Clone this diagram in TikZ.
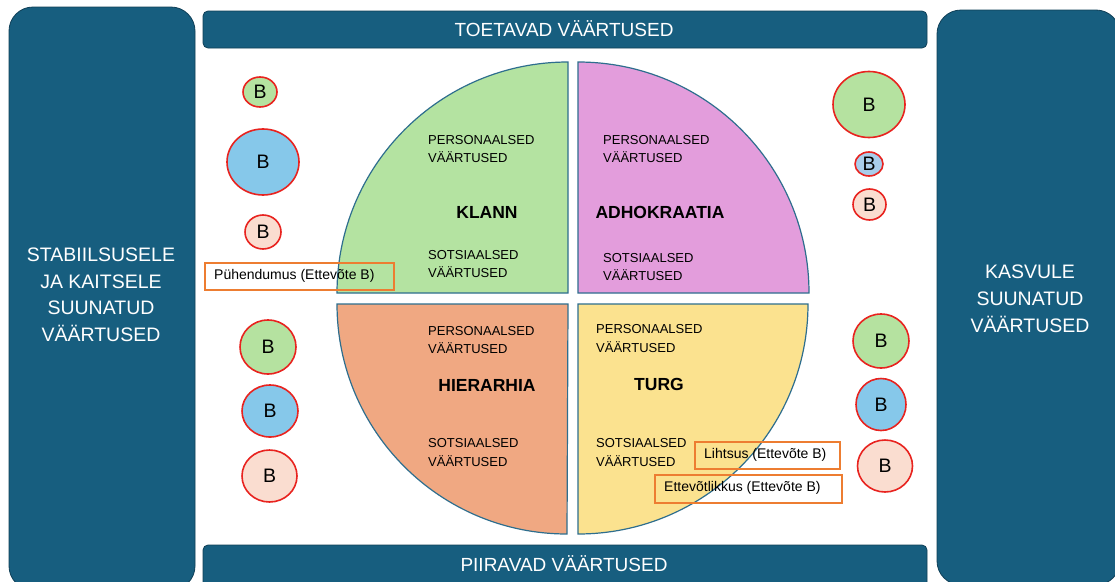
\documentclass[tikz,border=0pt]{standalone}
\usepackage{fontspec}
\setmainfont{Liberation Sans}
\usetikzlibrary{shapes.geometric}

\definecolor{panel}{HTML}{175E7F}
\definecolor{panelline}{HTML}{0F3F57}
\definecolor{quadline}{HTML}{2E6E8E}
\definecolor{qgreen}{HTML}{B4E3A1}
\definecolor{qpurple}{HTML}{E39DDC}
\definecolor{qorange}{HTML}{F0A882}
\definecolor{qyellow}{HTML}{FBE28F}
\definecolor{bgreen}{HTML}{B5E2A0}
\definecolor{bblue}{HTML}{86C8EA}
\definecolor{bblue2}{HTML}{A9CDEB}
\definecolor{bpeach}{HTML}{FADDD0}
\definecolor{bred}{HTML}{E8231F}
\definecolor{tagline}{HTML}{ED7D31}

\tikzset{
  panelbox/.style={fill=panel, draw=panelline, line width=0.8pt},
  quad/.style={draw=quadline, line width=1.2pt},
  paneltext/.style={text=white, font=\fontsize{19.5}{22}\selectfont, anchor=base, inner sep=0pt},
  bartext/.style={text=white, font=\fontsize{19}{22}\selectfont, anchor=base, inner sep=0pt},
  vtext/.style={font=\fontsize{13}{15}\selectfont, anchor=base west, inner sep=0pt, text=black},
  qname/.style={font=\bfseries\fontsize{17.5}{20}\selectfont, anchor=base, inner sep=0pt},
  bub/.style={ellipse, draw=bred, line width=1.6pt, inner sep=0pt, font=\fontsize{19.5}{22}\selectfont},
  tag/.style={draw=tagline, line width=1.6pt, anchor=north west, inner sep=0pt},
  tagtext/.style={font=\fontsize{14}{16}\selectfont, text=black, anchor=west, inner sep=0pt},
}

\begin{document}
\begin{tikzpicture}[x=1pt,y=-1pt]
\useasboundingbox[fill=white] (0,0) rectangle (1115,581);

% side panels and bars
\begin{scope}
\clip (0,0) rectangle (1115,581);
\draw[panelbox, rounded corners=24pt] (9,7) rectangle (195,590);
\draw[panelbox, rounded corners=24pt] (937,10) rectangle (1120,585);
\draw[panelbox, rounded corners=5pt] (203,11) rectangle (927,48);
\draw[panelbox, rounded corners=5pt] (203,545) rectangle (927,595);
\end{scope}

\node[bartext] (top) at (564,36) {TOETAVAD VÄÄRTUSED};
\node[bartext] (bottom) at (564,571) {PIIRAVAD VÄÄRTUSED};

\node[paneltext] (l1) at (101,261.5) {STABIILSUSELE};
\node[paneltext] (l2) at (101,288) {JA KAITSELE};
\node[paneltext] (l3) at (101,314.5) {SUUNATUD};
\node[paneltext] (l4) at (101,341) {VÄÄRTUSED};

\node[paneltext] (r1) at (1030,278) {KASVULE};
\node[paneltext] (r2) at (1030,305) {SUUNATUD};
\node[paneltext] (r3) at (1030,332) {VÄÄRTUSED};

% four quadrants
\draw[quad, fill=qgreen] (568,293) -- (337,293) arc[start angle=180, end angle=270, radius=231] -- cycle;
\draw[quad, fill=qpurple] (578,293) -- (578,62) arc[start angle=270, end angle=360, radius=231] -- cycle;
\draw[quad, fill=qorange] (568,304) -- (337,304) arc[start angle=180, end angle=90, radius=230] -- cycle;
\draw[quad, fill=qyellow] (578,304) -- (808,304) arc[start angle=0, end angle=90, radius=230] -- cycle;

% quadrant texts
\node[vtext] (g1) at (428,144) {PERSONAALSED};
\node[vtext] (g2) at (428,162) {VÄÄRTUSED};
\node[qname] (gn) at (487,218) {KLANN};
\node[vtext] (g3) at (428,259) {SOTSIAALSED};
\node[vtext] (g4) at (428,277.5) {VÄÄRTUSED};

\node[vtext] (p1) at (603,144) {PERSONAALSED};
\node[vtext] (p2) at (603,162.5) {VÄÄRTUSED};
\node[qname] (pn) at (660,218) {ADHOKRAATIA};
\node[vtext] (p3) at (603,262) {SOTSIAALSED};
\node[vtext] (p4) at (603,280.5) {VÄÄRTUSED};

\node[vtext] (o1) at (428,335) {PERSONAALSED};
\node[vtext] (o2) at (428,353) {VÄÄRTUSED};
\node[qname] (on) at (487,391) {HIERARHIA};
\node[vtext] (o3) at (428,447.5) {SOTSIAALSED};
\node[vtext] (o4) at (428,466) {VÄÄRTUSED};

\node[vtext] (y1) at (596,333) {PERSONAALSED};
\node[vtext] (y2) at (596,352) {VÄÄRTUSED};
\node[qname] (yn) at (659,390) {TURG};
\node[vtext] (y3) at (596,447.5) {SOTSIAALSED};
\node[vtext] (y4) at (596,466) {VÄÄRTUSED};

% value tags
\node[tag, minimum width=189pt, minimum height=27pt] (t1) at (204,262) {};
\node[tagtext] (t1text) at (214,275.5) {Pühendumus (Ettevõte B)};
\node[tag, minimum width=145pt, minimum height=27pt] (t2) at (694,441) {};
\node[tagtext] (t2text) at (704,454.5) {Lihtsus (Ettevõte B)};
\node[tag, minimum width=187pt, minimum height=28pt] (t3) at (654,474) {};
\node[tagtext] (t3text) at (664,488) {Ettevõtlikkus (Ettevõte B)};

% company bubbles, left side
\node[bub, fill=bgreen, minimum width=34pt, minimum height=30pt] (b1) at (260,92) {B};
\node[bub, fill=bblue, minimum width=72pt, minimum height=66pt] (b2) at (263,162) {B};
\node[bub, fill=bpeach, minimum width=36pt, minimum height=34pt] (b3) at (263,232) {B};
\node[bub, fill=bgreen, minimum width=56pt, minimum height=54pt] (b4) at (268,347) {B};
\node[bub, fill=bblue, minimum width=56pt, minimum height=52pt] (b5) at (270,411) {B};
\node[bub, fill=bpeach, minimum width=55pt, minimum height=52pt] (b6) at (269.5,476) {B};

% company bubbles, right side
\node[bub, fill=bgreen, minimum width=72pt, minimum height=66pt] (b7) at (869,104.5) {B};
\node[bub, fill=bblue2, minimum width=28pt, minimum height=24pt] (b8) at (869,164) {B};
\node[bub, fill=bpeach, minimum width=33pt, minimum height=31pt] (b9) at (869.5,204.5) {B};
\node[bub, fill=bgreen, minimum width=56pt, minimum height=54pt] (b10) at (881,341) {B};
\node[bub, fill=bblue, minimum width=50pt, minimum height=52pt] (b11) at (881,404.5) {B};
\node[bub, fill=bpeach, minimum width=55pt, minimum height=52pt] (b12) at (885,466) {B};
\end{tikzpicture}
\end{document}
